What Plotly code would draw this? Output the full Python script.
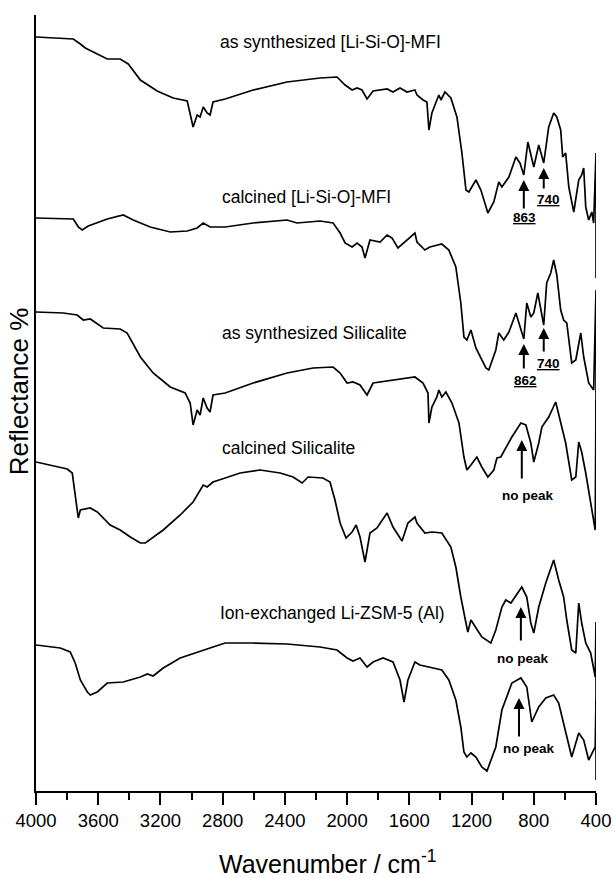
import plotly.graph_objects as go

# ---------------- data (wavenumber cm-1, reflectance in offset arbitrary units) ----------------
names = ["as synthesized [Li-Si-O]-MFI", "calcined [Li-Si-O]-MFI", "as synthesized Silicalite",
         "calcined Silicalite", "Ion-exchanged Li-ZSM-5 (Al)"]

wn_1 = [4000, 3760, 3715, 3683, 3606, 3542, 3459, 3407, 3329, 3221, 3118, 3028, 2990, 2964, 2945, 2925,
        2900, 2881, 2862, 2784, 2604, 2386, 2174, 2065, 2013, 1968, 1936, 1904, 1872, 1833, 1743, 1705,
        1660, 1615, 1564, 1551, 1512, 1487, 1474, 1455, 1423, 1410, 1397, 1371, 1333, 1294, 1262, 1236,
        1217, 1172, 1140, 1095, 1057, 1025, 1005, 960, 915, 889, 864, 838, 800, 768, 736, 704, 672, 652,
        627, 614, 595, 575, 543, 511, 492, 479, 466, 447, 427, 415, 400, 400]
r_1 = [754, 752, 747, 743, 737, 732, 732, 727, 711, 700, 693, 690, 664, 676, 674, 684,
       678, 676, 689, 692, 701, 709, 713, 714, 706, 701, 703, 701, 692, 700, 702, 699,
       703, 699, 701, 696, 691, 689, 661, 678, 691, 696, 691, 699, 693, 674, 638, 601,
       599, 611, 601, 578, 589, 609, 604, 614, 634, 628, 616, 649, 624, 646, 628, 664, 678, 674,
       661, 634, 638, 604, 579, 611, 616, 623, 584, 571, 579, 568, 638, 513]

wn_2 = [4000, 3760, 3728, 3703, 3664, 3542, 3439, 3375, 3266, 3137, 3028, 2964, 2925, 2881, 2784, 2604,
        2386, 2322, 2174, 2090, 2045, 2013, 1968, 1936, 1904, 1885, 1853, 1788, 1743, 1711, 1673, 1615,
        1564, 1551, 1500, 1468, 1391, 1346, 1301, 1269, 1249, 1230, 1204, 1172, 1108, 1089, 1044, 1025,
        993, 960, 915, 864, 845, 819, 800, 774, 736, 717, 691, 672, 652, 627, 608, 588, 556, 530, 498,
        479, 447, 415, 400, 400]
r_2 = [573, 572, 564, 561, 565, 572, 576, 571, 564, 559, 560, 563, 568, 564, 564, 568,
       571, 568, 570, 568, 558, 548, 544, 548, 544, 533, 551, 549, 556, 553, 543, 551,
       558, 549, 541, 544, 547, 541, 524, 488, 454, 451, 461, 443, 423, 421, 441, 458,
       451, 459, 478, 452, 488, 474, 478, 498, 466, 508, 518, 531, 516, 481, 471, 468, 428, 431, 458,
       434, 408, 401, 501, 331]

wn_3 = [4000, 3825, 3735, 3696, 3651, 3568, 3459, 3414, 3329, 3247, 3137, 3041, 3009, 2990, 2964, 2945,
        2925, 2900, 2881, 2862, 2784, 2604, 2386, 2219, 2090, 2045, 2000, 1962, 1917, 1872, 1833, 1705,
        1615, 1564, 1512, 1480, 1474, 1455, 1423, 1410, 1391, 1365, 1326, 1281, 1249, 1230, 1204, 1166,
        1134, 1095, 1057, 1037, 1012, 980, 941, 883, 851, 819, 800, 768, 748, 704, 659, 620, 595, 556,
        530, 511, 492, 466, 447, 427, 405, 400, 400]
r_3 = [479, 478, 476, 471, 472, 463, 462, 458, 434, 418, 404, 398, 388, 366, 381, 376,
       393, 383, 379, 396, 398, 408, 418, 423, 424, 418, 408, 409, 406, 396, 408, 411,
       413, 414, 408, 398, 368, 384, 394, 401, 394, 399, 388, 368, 334, 321, 326, 334,
       324, 314, 321, 333, 334, 343, 354, 368, 366, 348, 329, 348, 364, 374, 389, 364, 348, 311,
       314, 349, 339, 318, 301, 284, 261, 391, 263]

wn_4 = [4000, 3908, 3799, 3767, 3748, 3728, 3715, 3651, 3606, 3523, 3459, 3394, 3329, 3297, 3182, 3073,
        2990, 2945, 2925, 2900, 2862, 2784, 2688, 2559, 2431, 2347, 2289, 2251, 2155, 2110, 2078, 2045,
        2007, 1968, 1942, 1917, 1885, 1853, 1808, 1743, 1705, 1647, 1609, 1564, 1551, 1500, 1455, 1391,
        1333, 1301, 1269, 1236, 1224, 1204, 1172, 1134, 1076, 1044, 1005, 980, 947, 909, 877, 845, 819,
        800, 768, 723, 672, 640, 608, 588, 556, 530, 511, 492, 466, 434, 405, 400, 400]
r_4 = [329, 326, 322, 318, 294, 273, 281, 283, 279, 266, 261, 254, 248, 248, 261, 276,
       289, 301, 306, 304, 309, 313, 318, 321, 318, 314, 308, 314, 313, 309, 291, 268,
       253, 259, 266, 254, 229, 258, 263, 278, 264, 250, 268, 274, 268, 258, 259, 258,
       244, 224, 194, 168, 159, 171, 163, 154, 148, 161, 184, 191, 188, 196, 204, 194, 168,
       158, 184, 208, 231, 211, 194, 171, 141, 138, 188, 168, 148, 138, 114, 169, 71]

wn_5 = [4000, 3844, 3780, 3748, 3715, 3670, 3651, 3606, 3542, 3439, 3329, 3284, 3247, 3182, 3073, 2964,
        2862, 2784, 2604, 2386, 2174, 2065, 2000, 1962, 1917, 1872, 1833, 1769, 1705, 1660, 1634, 1609,
        1564, 1532, 1468, 1391, 1346, 1301, 1269, 1249, 1230, 1204, 1172, 1134, 1101, 1044, 1005, 941,
        883, 845, 813, 768, 723, 672, 640, 608, 556, 511, 479, 447, 405, 400, 400]
r_5 = [146, 143, 139, 128, 111, 99, 96, 99, 108, 109, 114, 117, 115, 123, 133, 139,
       144, 148, 148, 147, 144, 141, 133, 130, 133, 124, 129, 133, 129, 111, 89, 111,
       129, 126, 124, 121, 111, 91, 64, 39, 34, 38, 34, 24, 20, 44, 81, 108,
       113, 104, 69, 84, 93, 96, 88, 68, 34, 58, 51, 31, 44, 91, 11]

series_wn = [wn_1, wn_2, wn_3, wn_4, wn_5]
series_r = [r_1, r_2, r_3, r_4, r_5]

# label anchor (wavenumber of left edge, reflectance level)
label_wn = [2829, 2816, 2816, 2816, 2829]
label_r = [749, 594, 458, 343, 178]

# peak markers: (arrow wavenumber, arrow tip, arrow tail, text wavenumber, text level, text)
marker_wn = [864, 736, 864, 736, 877, 883, 895]
marker_tip = [611, 623, 447, 463, 351, 184, 93]
marker_tail = [581, 601, 421, 438, 311, 149, 53]
marker_text_wn = [857, 704, 851, 704, 838, 870, 832]
marker_text_r = [574, 592, 411, 428, 296, 133, 43]
marker_text = ["<u>863</u>", "<u>740</u>", "<u>862</u>", "<u>740</u>", "no peak", "no peak", "no peak"]

x_ticks = [4000, 3600, 3200, 2800, 2400, 2000, 1600, 1200, 800, 400]

FONT = "Liberation Sans, Arial, Helvetica, sans-serif"

fig = go.Figure()
for wn, r, nm in zip(series_wn, series_r, names):
    fig.add_trace(go.Scatter(x=wn, y=r, mode="lines", name=nm,
                             line=dict(color="black", width=1.7), showlegend=False))

annotations = []
for lw, lr, nm in zip(label_wn, label_r, names):
    annotations.append(dict(x=lw, y=lr, xref="x", yref="y", text=nm, showarrow=False,
                            xanchor="left", yanchor="middle",
                            font=dict(family=FONT, size=17.5, color="black")))
for mw, tip, tail, tw, tr, tx in zip(marker_wn, marker_tip, marker_tail, marker_text_wn,
                                     marker_text_r, marker_text):
    annotations.append(dict(x=mw, y=tip, xref="x", yref="y", ax=mw, ay=tail, axref="x", ayref="y",
                            text="", showarrow=True, arrowhead=2, arrowsize=1.1, arrowwidth=2,
                            arrowcolor="black"))
    annotations.append(dict(x=tw, y=tr, xref="x", yref="y", text="<b>" + tx + "</b>",
                            showarrow=False, xanchor="center", yanchor="middle",
                            font=dict(family=FONT, size=13.5, color="black")))

annotations.append(dict(x=0, y=0.515, xref="paper", yref="paper", xshift=-17,
                        text="Reflectance %", textangle=-90, showarrow=False,
                        xanchor="center", yanchor="middle",
                        font=dict(family=FONT, size=26, color="black")))
annotations.append(dict(x=0.323, y=-0.092, xref="paper", yref="paper",
                        text="Wavenumber / cm<sup>-1</sup>", showarrow=False,
                        xanchor="left", yanchor="middle",
                        font=dict(family=FONT, size=25, color="black")))

fig.update_layout(
    width=615, height=878,
    margin=dict(l=36, r=19, t=15, b=87, pad=0),
    paper_bgcolor="white", plot_bgcolor="white",
    annotations=annotations,
    xaxis=dict(range=[4000, 400], tickvals=x_ticks, ticktext=[str(v) for v in x_ticks],
               ticks="outside", ticklen=12, tickwidth=2, tickcolor="black",
               minor=dict(dtick=200, tick0=400, ticks="outside", ticklen=7, tickwidth=2,
                          tickcolor="black", showgrid=False),
               showline=True, linewidth=2, linecolor="black", showgrid=False, zeroline=False,
               tickfont=dict(family=FONT, size=18.5, color="black"), automargin=False),
    yaxis=dict(range=[0, 776], showline=True, linewidth=2, linecolor="black",
               showticklabels=False, ticks="", showgrid=False, zeroline=False, automargin=False),
)

fig.write_html("out.html", config={"displayModeBar": False},
               post_script="document.body.style.margin='0';document.body.style.overflow='hidden';")
